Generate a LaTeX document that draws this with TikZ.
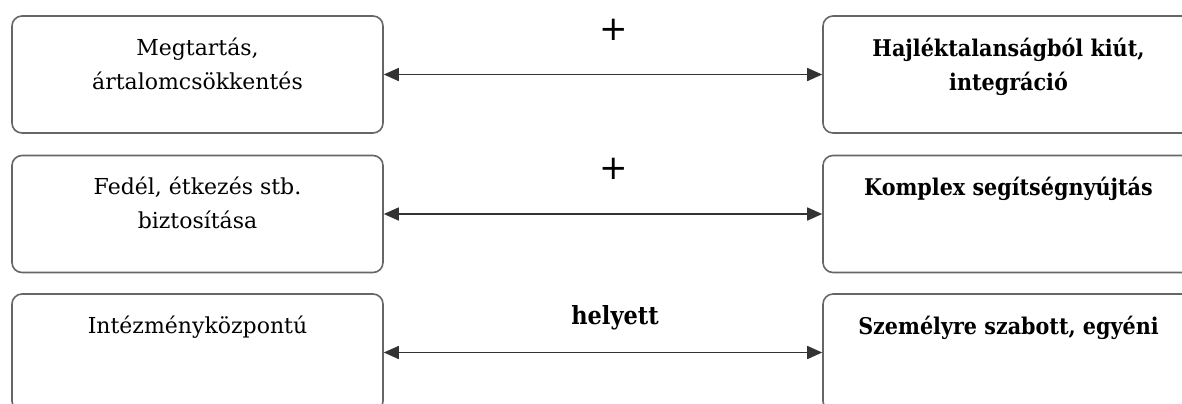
\documentclass[tikz,border=0pt]{standalone}
\usepackage{fontspec}
\setmainfont{DejaVu Serif}[BoldFeatures={FakeStretch=0.9}]
\newfontfamily\jelfont{DejaVu Sans}
\usetikzlibrary{arrows.meta}

\tikzset{
  doboz/.style={draw=black!60, line width=0.8pt, rounded corners=5pt,
    minimum width=185.5pt, minimum height=58.5pt, inner sep=0pt},
  felirat/.style={anchor=north, yshift=-11pt, align=center, inner sep=0pt,
    font=\fontsize{11}{17}\selectfont},
  felirat b/.style={felirat, font=\fontsize{11.5}{17}\selectfont\bfseries},
  nyil/.style={draw=black!80, line width=0.8pt,
    {Triangle[length=7.5pt,width=6.5pt]}-{Triangle[length=7.5pt,width=6.5pt]}},
  jel/.style={inner sep=0pt, xshift=5.5pt, yshift=22.5pt,
    font=\jelfont\fontsize{17}{17}\selectfont},
  jel b/.style={inner sep=0pt, xshift=6pt, yshift=17.5pt,
    font=\fontsize{12.5}{12.5}\selectfont\bfseries}
}

\begin{document}
\begin{tikzpicture}[x=0.5pt, y=-0.5pt]
  \clip (0,0) rectangle (1182,403);

  % bal oldal
  \node[doboz, label={[felirat]north:{Megtartás,\\ártalomcsökkentés}}] (bal1) at (197.5,74.5) {};
  \node[doboz, label={[felirat]north:{Fedél, étkezés stb.\\biztosítása}}] (bal2) at (197.5,214) {};
  \node[doboz, label={[felirat]north:{Intézményközpontú}}] (bal3) at (197.5,352.5) {};

  % jobb oldal
  \node[doboz, label={[felirat b]north:{Hajléktalanságból kiút,\\integráció}}] (jobb1) at (1008.5,74.5) {};
  \node[doboz, label={[felirat b]north:{Komplex segítségnyújtás}}] (jobb2) at (1008.5,214) {};
  \node[doboz, label={[felirat b]north:{Személyre szabott, egyéni}}] (jobb3) at (1008.5,352.5) {};

  \draw[nyil] (bal1.east) -- node[jel] {+} (jobb1.west);
  \draw[nyil] (bal2.east) -- node[jel] {+} (jobb2.west);
  \draw[nyil] (bal3.east) -- node[jel b] {helyett} (jobb3.west);
\end{tikzpicture}
\end{document}
